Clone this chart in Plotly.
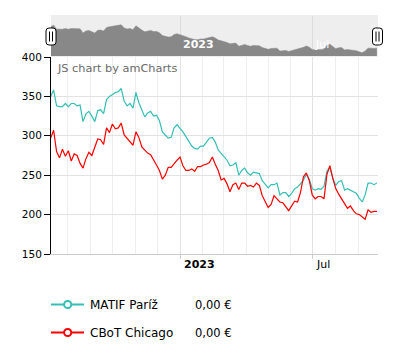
import plotly.graph_objects as go
import pandas as pd

# ---------------- data ----------------
START_DATE = "2022-07-09"
STEP = "4D"
MATIF = [350, 358, 338, 337, 337, 341, 337, 341, 341, 338,
         339, 318, 328, 331, 325, 318, 332, 333, 328, 346,
         350, 353, 355, 356, 360, 344, 338, 341, 335, 355,
         342, 333, 324, 329, 331, 325, 326, 319, 305, 301,
         297, 298, 310, 314, 310, 305, 299, 292, 287, 284,
         283, 287, 287, 292, 297, 298, 292, 282, 278, 274,
         269, 262, 263, 266, 250, 256, 259, 253, 250, 254,
         253, 252, 243, 238, 234, 238, 238, 240, 225, 228,
         228, 223, 227, 233, 235, 239, 244, 251, 245, 233,
         231, 233, 232, 236, 255, 260, 246, 237, 242, 243,
         231, 233, 231, 229, 227, 221, 216, 225, 240, 240,
         238, 240]
CBOT = [297, 307, 280, 272, 283, 274, 281, 268, 277, 275,
        265, 259, 271, 279, 275, 287, 296, 295, 289, 310,
        304, 315, 309, 310, 316, 301, 297, 293, 288, 305,
        298, 286, 282, 278, 276, 270, 263, 256, 245, 250,
        260, 260, 265, 269, 273, 262, 256, 256, 258, 255,
        261, 261, 263, 264, 266, 273, 264, 256, 244, 246,
        239, 229, 238, 240, 232, 240, 240, 236, 237, 235,
        240, 237, 224, 216, 209, 213, 224, 220, 216, 215,
        210, 205, 211, 217, 216, 228, 248, 253, 243, 225,
        220, 223, 223, 220, 251, 262, 246, 233, 226, 219,
        214, 208, 211, 205, 201, 200, 197, 194, 206, 203,
        204, 204]
SERIES_NAMES = ["MATIF Paríž", "CBoT Chicago"]
LEGEND_VALUES = ["0,00 €", "0,00 €"]
Y_TICKS = [150, 200, 250, 300, 350, 400]
Y_RANGE = [150, 400]
X_MAJOR = ["2023-01-01", "2023-07-01"]
X_MAJOR_TEXT = ["<b>2023</b>", "Jul"]
X_RANGE = ["2022-07-09 10:00", "2023-09-27 12:00"]

dates = pd.date_range(START_DATE, periods=len(MATIF), freq=STEP)

TEAL = "#35bfb5"
RED = "#ff0000"
FONT = "DejaVu Sans"
W, H = 403, 357
L, R = 51, 25


def px(x):
    return (x - L) / (W - L - R)


def py(y):
    return 1 - y / H


fig = go.Figure()
fig.add_trace(go.Scatter(x=dates, y=MATIF, mode="lines", name=SERIES_NAMES[0],
                         line=dict(color=TEAL, width=1.2), xaxis="x", yaxis="y"))
fig.add_trace(go.Scatter(x=dates, y=CBOT, mode="lines", name=SERIES_NAMES[1],
                         line=dict(color=RED, width=1.2), xaxis="x", yaxis="y"))
# scrollbar preview
fig.add_trace(go.Scatter(x=dates, y=MATIF, mode="lines", fill="tozeroy",
                         fillcolor="#888888", line=dict(color="#888888", width=0.5),
                         xaxis="x2", yaxis="y2", hoverinfo="skip"))

shapes = []
# scrollbar background
shapes.append(dict(type="rect", xref="paper", yref="paper", x0=0, x1=1,
                   y0=py(57), y1=py(15), fillcolor="#eeeeee", line=dict(width=0),
                   layer="below"))


def rrect(x0, y0, x1, y1, r):
    pts = [
        f"M {px(x0 + r)},{py(y0)}",
        f"L {px(x1 - r)},{py(y0)}",
        f"Q {px(x1)},{py(y0)} {px(x1)},{py(y0 + r)}",
        f"L {px(x1)},{py(y1 - r)}",
        f"Q {px(x1)},{py(y1)} {px(x1 - r)},{py(y1)}",
        f"L {px(x0 + r)},{py(y1)}",
        f"Q {px(x0)},{py(y1)} {px(x0)},{py(y1 - r)}",
        f"L {px(x0)},{py(y0 + r)}",
        f"Q {px(x0)},{py(y0)} {px(x0 + r)},{py(y0)}",
        "Z",
    ]
    return " ".join(pts)


for cx in (51, 377.5):
    shapes.append(dict(type="path", xref="paper", yref="paper",
                       path=rrect(cx - 5, 28, cx + 5, 45, 3),
                       fillcolor="white", line=dict(color="black", width=1)))
    for dx in (-1.5, 1.5):
        shapes.append(dict(type="line", xref="paper", yref="paper",
                           x0=px(cx + dx), x1=px(cx + dx), y0=py(31.5), y1=py(41.5),
                           line=dict(color="black", width=1)))

annotations = [dict(text="JS chart by amCharts", x=px(55), y=py(68), xref="paper",
                    yref="paper", xanchor="left", yanchor="middle", showarrow=False,
                    font=dict(family=FONT, size=11.3, color="#6a6a6a"))]

for i, (name, val, col) in enumerate(zip(SERIES_NAMES, LEGEND_VALUES, [TEAL, RED])):
    yy = 304.5 + i * 28
    shapes.append(dict(type="line", xref="paper", yref="paper", x0=px(51), x1=px(84),
                       y0=py(yy), y1=py(yy), line=dict(color=col, width=2)))
    shapes.append(dict(type="circle", xref="paper", yref="paper",
                       x0=px(67.7 - 3.6), x1=px(67.7 + 3.6), y0=py(yy + 3.6), y1=py(yy - 3.6),
                       fillcolor="white", line=dict(color=col, width=2)))
    annotations.append(dict(text=name, x=px(88), y=py(yy), xref="paper", yref="paper",
                            xanchor="left", yanchor="middle", showarrow=False,
                            font=dict(family=FONT, size=12, color="#000000")))
    annotations.append(dict(text=val, x=px(193), y=py(yy), xref="paper", yref="paper",
                            xanchor="left", yanchor="middle", showarrow=False,
                            font=dict(family=FONT, size=11.5, color="#000000")))

fig.update_layout(
    width=W, height=H,
    margin=dict(l=L, r=R, t=0, b=0, autoexpand=False),
    paper_bgcolor="white", plot_bgcolor="white",
    showlegend=False,
    font=dict(family=FONT, size=11, color="#000000"),
    xaxis=dict(domain=[0, 1], anchor="y", type="date", range=X_RANGE,
               tickmode="array", tickvals=X_MAJOR, ticktext=X_MAJOR_TEXT,
               ticks="outside", ticklen=4, tickcolor="#cccccc",
               ticklabelposition="outside right", ticklabelshift=3,
               showline=True, linecolor="#cccccc", linewidth=1,
               showgrid=True, gridcolor="#e2e2e2",
               minor=dict(dtick="M1", tick0="2022-08-01", showgrid=True,
                          gridcolor="#eeeeee", ticks=""),
               tickfont=dict(family=FONT, size=11, color="#000000"),
               zeroline=False, fixedrange=True, automargin=False),
    yaxis=dict(domain=[py(254), py(57)], anchor="x", range=Y_RANGE,
               tickmode="array", tickvals=Y_TICKS,
               ticks="outside", ticklen=6, tickcolor="#000000",
               showline=True, linecolor="#000000", linewidth=1,
               showgrid=True, gridcolor="#e2e2e2", zeroline=False,
               tickfont=dict(family=FONT, size=10.5, color="#000000"),
               fixedrange=True, automargin=False),
    xaxis2=dict(domain=[0, 1], anchor="y2", type="date", range=X_RANGE,
                tickmode="array", tickvals=X_MAJOR, ticktext=X_MAJOR_TEXT,
                ticks="", ticklabelposition="inside right", ticklabelshift=3,
                showline=False, showgrid=True, gridcolor="#dcdcdc",
                tickfont=dict(family=FONT, size=11, color="#ffffff"),
                zeroline=False, fixedrange=True, automargin=False),
    yaxis2=dict(domain=[py(56), py(16)], anchor="x2", range=[199.6, 405],
                showticklabels=False, showgrid=False, zeroline=False,
                showline=False, ticks="", fixedrange=True),
    shapes=shapes,
    annotations=annotations,
)

fig.write_html("out.html", config={"displayModeBar": False},
               post_script="document.body.style.margin='0';")
